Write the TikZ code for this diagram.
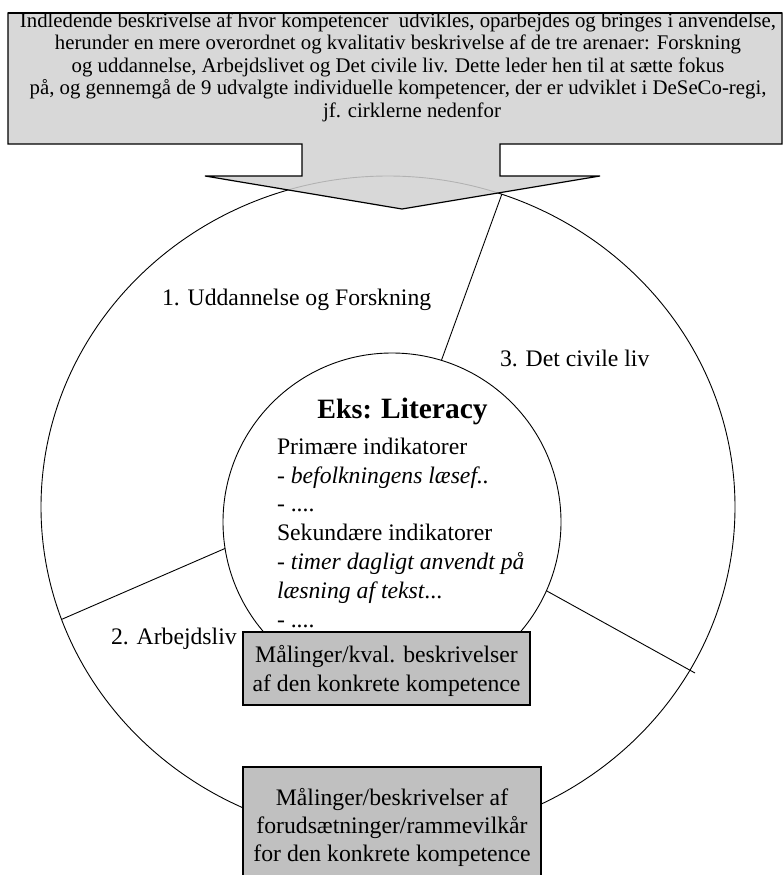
\documentclass[tikz,border=0pt]{standalone}
\usepackage{fontspec}
\setmainfont{Liberation Serif}
\usetikzlibrary{shapes.geometric}
\definecolor{calloutgray}{HTML}{D2D2D2}
\definecolor{boxgray}{HTML}{C0C0C0}
\begin{document}
\begin{tikzpicture}[x=1pt,y=-1pt,
  every node/.style={inner sep=0pt, outer sep=0pt},
  thinline/.style={line width=0.9pt},
  graybox/.style={draw, line width=1.2pt, fill=boxgray, align=center, font=\fontsize{23.7}{28.8}\selectfont},
  lbl/.style={anchor=base west, font=\fontsize{23.7}{28.8}\selectfont}]
\useasboundingbox (0,0) rectangle (783,875);
\clip (0,0) rectangle (783,875);
\fill[white] (0,0) rectangle (783,875);

% rings
\node[draw, thinline, ellipse, minimum width=694pt, minimum height=662pt] (outer) at (388,507) {};
\node[draw, thinline, circle, minimum size=338pt] (inner) at (392,522) {};

% sector dividers
\coordinate (rend) at (695,673);
\draw[thinline] (inner.73.9) -- (outer.70.6);
\draw[thinline] (inner.189.4) -- (outer.199.4);
\draw[thinline] (inner.336.4) -- (rend);

% arena labels
\node[lbl] (l1) at (162,305) {1. Uddannelse og Forskning};
\node[lbl] (l3) at (500,366) {3. Det civile liv};
\node[lbl] (l2) at (111,644) {2. Arbejdsliv};

% centre text
\node[anchor=base] (eks) at (402.5,418) {\bfseries\fontsize{28}{30}\selectfont Eks: \fontsize{29.5}{34}\selectfont Literacy};
\node[anchor=north west, align=left, font=\fontsize{23.7}{28.8}\selectfont] (ind) at (277,437.8)
  {Primære indikatorer\\- \textit{befolkningens læsef..}\\- ....\\Sekundære indikatorer\\- \textit{timer dagligt anvendt på}\\\textit{læsning af tekst}...\\- ....};

% grey boxes
\node[graybox, minimum width=287pt, minimum height=73pt] (box1) at (386.5,668.5)
  {\rule{0pt}{22.6pt}Målinger/kval. beskrivelser\\af den konkrete kompetence};
\node[graybox, minimum width=298pt, minimum height=120.6pt, font=\fontsize{23.7}{28}\selectfont] (box2) at (392,827.3)
  {Målinger/beskrivelser af\\forudsætninger/rammevilkår\\for den konkrete kompetence};

% callout arrow
\draw[line width=1.2pt, fill=calloutgray, fill opacity=0.85]
  (8,13) -- (782,13) -- (782,144) -- (500,144) -- (500,176) -- (600,176) -- (402,209)
  -- (205,176) -- (302,176) -- (302,144) -- (8,144) -- cycle;
\begin{scope}
\clip (8,13) rectangle (782,144);
\node[anchor=north, align=center, font=\fontsize{20.8}{22.5}\selectfont] (intro) at (398,12.8)
  {Indledende beskrivelse af hvor kompetencer~ udvikles, oparbejdes og bringes i anvendelse,\\
   herunder en mere overordnet og kvalitativ beskrivelse af de tre arenaer: Forskning\\
   og uddannelse, Arbejdslivet og Det civile liv. Dette leder hen til at sætte fokus\\
   på, og gennemgå de 9 udvalgte individuelle kompetencer, der er udviklet i DeSeCo-regi,\\
   \hspace*{28pt}jf. cirklerne nedenfor};
\end{scope}
\draw[line width=1.2pt] (8,13) -- (782,13);
\end{tikzpicture}
\end{document}
